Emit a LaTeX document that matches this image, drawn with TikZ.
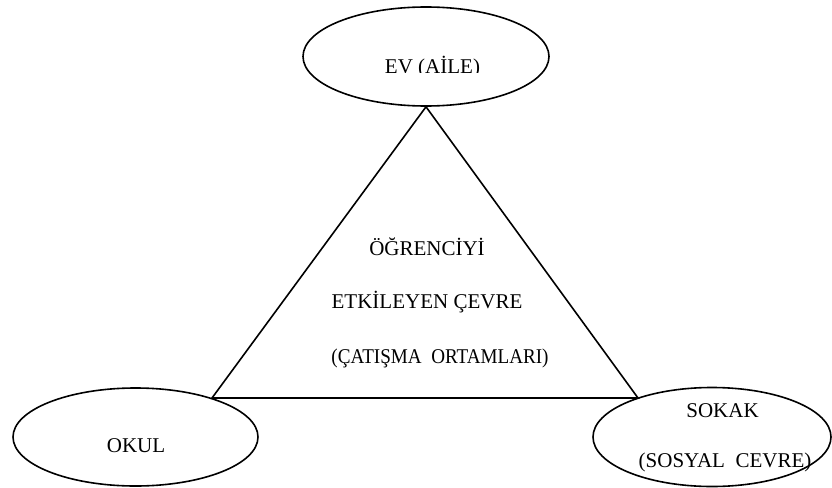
\documentclass[tikz,border=0pt]{standalone}
\usepackage{fontspec}
\setmainfont{Liberation Serif}
\usetikzlibrary{shapes.geometric}
\begin{document}
\begin{tikzpicture}[x=1pt,y=-1pt,
  oval/.style={draw, ellipse, line width=1.6pt, inner sep=0pt},
  edge/.style={line width=1.6pt, line join=miter},
  lbl/.style={font=\fontsize{21}{25}\selectfont, inner sep=0pt, anchor=base}]
\useasboundingbox (0,0) rectangle (832,487);
% ellipses
\node[oval, minimum width=246pt, minimum height=99pt] (ev) at (426,56.5) {};
\node[oval, minimum width=245pt, minimum height=98pt] (okul) at (135.5,437) {};
\node[oval, minimum width=238pt, minimum height=99pt] (sokak) at (712,437) {};
% triangle
\coordinate (tl) at (212,398);
\coordinate (tr) at (638,398);
\draw[edge] (ev.south) -- (tl) -- (tr) -- cycle;
% clipped top label
\begin{scope}
  \clip (300,0) rectangle (560,72);
  \node[lbl] (evt) at (432.5,74) {EV (AİLE)};
\end{scope}
% centre text
\node[lbl] (t1) at (427,255) {ÖĞRENCİYİ};
\node[lbl] (t2) at (427,308) {ETKİLEYEN ÇEVRE};
\node[lbl] (t3) at (440,363) {\scalebox{0.91}[1]{(ÇATIŞMA\ \ ORTAMLARI)}};
% corner labels
\node[lbl] (okt) at (136,452) {OKUL};
\node[lbl] (s1) at (722.5,417) {SOKAK};
\node[lbl] (s2) at (725,467) {(SOSYAL\ \ CEVRE)};
\end{tikzpicture}
\end{document}
